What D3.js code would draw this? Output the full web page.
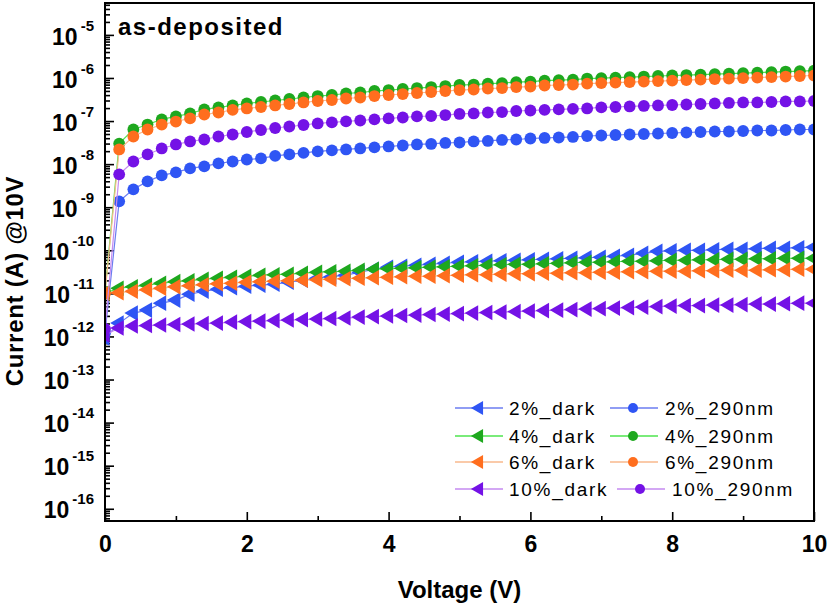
<!DOCTYPE html>
<html lang="en">
<head>
<meta charset="UTF-8">
<title>Current vs Voltage</title>
<script src="https://d3js.org/d3.v7.min.js"></script>
<style>
  body { margin: 0; background: #fff; }
  svg text { font-family: "Liberation Sans", Arial, sans-serif; fill: #000; }
</style>
</head>
<body>
<svg class="chart" width="833" height="611"></svg>
<script>
// voltage sweep (V)
const voltage = [0, 0.2, 0.4, 0.6, 0.8, 1, 1.2, 1.4, 1.6, 1.8, 2, 2.2, 2.4, 2.6, 2.8, 3, 3.2, 3.4, 3.6, 3.8,
  4, 4.2, 4.4, 4.6, 4.8, 5, 5.2, 5.4, 5.6, 5.8, 6, 6.2, 6.4, 6.6, 6.8, 7, 7.2, 7.4, 7.6, 7.8,
  8, 8.2, 8.4, 8.6, 8.8, 9, 9.2, 9.4, 9.6, 9.8, 10];

// current (A)
const dark2 = [9.2e-13, 2.04e-12, 3.48e-12, 4.09e-12, 5.93e-12, 6.97e-12, 9.6e-12, 1.12e-11, 1.25e-11, 1.36e-11,
  1.47e-11, 1.55e-11, 1.63e-11, 1.82e-11, 2.02e-11, 2.25e-11, 2.44e-11, 2.64e-11, 3.1e-11, 3.64e-11,
  4.05e-11, 4.27e-11, 4.5e-11, 4.74e-11, 5.0e-11, 5.28e-11, 5.42e-11, 5.57e-11, 5.72e-11, 5.87e-11,
  6.03e-11, 6.2e-11, 6.36e-11, 6.54e-11, 6.71e-11, 6.9e-11, 7.29e-11, 7.67e-11, 8.51e-11, 9.45e-11,
  9.7e-11, 1.0e-10, 1.0e-10, 1.03e-10, 1.06e-10, 1.06e-10, 1.09e-10, 1.12e-10, 1.12e-10, 1.15e-10, 1.18e-10];
const light2 = [1.2e-12, 1.37e-9, 2.6e-9, 3.98e-9, 5.48e-9, 6.43e-9, 7.96e-9, 8.87e-9, 1.04e-8, 1.15e-8,
  1.28e-8, 1.36e-8, 1.55e-8, 1.68e-8, 1.82e-8, 1.97e-8, 2.08e-8, 2.19e-8, 2.31e-8, 2.44e-8,
  2.57e-8, 2.71e-8, 2.86e-8, 2.94e-8, 3.1e-8, 3.18e-8, 3.36e-8, 3.45e-8, 3.64e-8, 3.73e-8,
  3.94e-8, 4.05e-8, 4.15e-8, 4.27e-8, 4.5e-8, 4.62e-8, 4.74e-8, 4.87e-8, 5.0e-8, 5.14e-8,
  5.28e-8, 5.42e-8, 5.57e-8, 5.72e-8, 5.72e-8, 5.87e-8, 6.03e-8, 6.03e-8, 6.2e-8, 6.36e-8, 6.36e-8];
const dark4 = [1.01e-11, 1.32e-11, 1.43e-11, 1.55e-11, 1.72e-11, 1.87e-11, 1.97e-11, 2.13e-11, 2.25e-11, 2.37e-11,
  2.5e-11, 2.64e-11, 2.71e-11, 2.79e-11, 2.94e-11, 3.1e-11, 3.18e-11, 3.27e-11, 3.45e-11, 3.64e-11,
  3.73e-11, 3.83e-11, 3.94e-11, 4.05e-11, 4.15e-11, 4.27e-11, 4.38e-11, 4.5e-11, 4.62e-11, 4.74e-11,
  4.74e-11, 4.87e-11, 5.0e-11, 5.14e-11, 5.28e-11, 5.28e-11, 5.42e-11, 5.57e-11, 5.57e-11, 5.72e-11,
  5.87e-11, 5.87e-11, 6.03e-11, 6.03e-11, 6.2e-11, 6.2e-11, 6.36e-11, 6.36e-11, 6.54e-11, 6.54e-11, 6.54e-11];
const light4 = [1.1e-11, 3.0e-8, 6.4e-8, 8.3e-8, 1.09e-7, 1.28e-7, 1.5e-7, 1.86e-7, 2.07e-7, 2.3e-7,
  2.56e-7, 2.77e-7, 3.0e-7, 3.25e-7, 3.52e-7, 3.81e-7, 4.02e-7, 4.36e-7, 4.6e-7, 4.98e-7,
  5.25e-7, 5.54e-7, 5.84e-7, 6.16e-7, 6.5e-7, 6.86e-7, 7.04e-7, 7.42e-7, 7.62e-7, 8.04e-7,
  8.25e-7, 8.7e-7, 8.94e-7, 9.18e-7, 9.7e-7, 9.96e-7, 1.02e-6, 1.05e-6, 1.08e-6, 1.11e-6,
  1.14e-6, 1.17e-6, 1.2e-6, 1.23e-6, 1.26e-6, 1.3e-6, 1.33e-6, 1.37e-6, 1.41e-6, 1.44e-6, 1.48e-6];
const dark6 = [1.01e-11, 1.04e-11, 1.12e-11, 1.22e-11, 1.32e-11, 1.43e-11, 1.51e-11, 1.59e-11, 1.68e-11, 1.72e-11,
  1.82e-11, 1.87e-11, 1.92e-11, 1.97e-11, 2.02e-11, 2.08e-11, 2.13e-11, 2.19e-11, 2.25e-11, 2.31e-11,
  2.37e-11, 2.44e-11, 2.5e-11, 2.5e-11, 2.57e-11, 2.64e-11, 2.71e-11, 2.71e-11, 2.79e-11, 2.86e-11,
  2.86e-11, 2.94e-11, 2.94e-11, 3.02e-11, 3.02e-11, 3.1e-11, 3.1e-11, 3.18e-11, 3.18e-11, 3.27e-11,
  3.27e-11, 3.27e-11, 3.36e-11, 3.36e-11, 3.45e-11, 3.45e-11, 3.45e-11, 3.54e-11, 3.54e-11, 3.64e-11, 3.64e-11];
const light6 = [1.0e-11, 2.19e-8, 4.38e-8, 6.36e-8, 8.3e-8, 9.75e-8, 1.15e-7, 1.42e-7, 1.58e-7, 1.81e-7,
  1.96e-7, 2.12e-7, 2.3e-7, 2.49e-7, 2.7e-7, 2.92e-7, 3.08e-7, 3.34e-7, 3.52e-7, 3.81e-7,
  4.02e-7, 4.24e-7, 4.48e-7, 4.72e-7, 4.98e-7, 5.25e-7, 5.4e-7, 5.69e-7, 5.84e-7, 6.16e-7,
  6.33e-7, 6.68e-7, 6.86e-7, 7.04e-7, 7.42e-7, 7.62e-7, 7.83e-7, 8.04e-7, 8.25e-7, 8.47e-7,
  8.7e-7, 8.94e-7, 9.18e-7, 9.45e-7, 9.7e-7, 9.96e-7, 1.02e-6, 1.05e-6, 1.08e-6, 1.11e-6, 1.14e-6];
const dark10 = [1.08e-12, 1.57e-12, 1.74e-12, 1.79e-12, 1.84e-12, 1.89e-12, 1.94e-12, 1.99e-12, 2.04e-12, 2.15e-12,
  2.21e-12, 2.27e-12, 2.33e-12, 2.4e-12, 2.46e-12, 2.53e-12, 2.6e-12, 2.67e-12, 2.81e-12, 2.89e-12,
  2.97e-12, 3.05e-12, 3.13e-12, 3.22e-12, 3.3e-12, 3.39e-12, 3.48e-12, 3.58e-12, 3.67e-12, 3.78e-12,
  3.88e-12, 3.98e-12, 4.09e-12, 4.2e-12, 4.31e-12, 4.43e-12, 4.55e-12, 4.67e-12, 4.8e-12, 4.93e-12,
  5.06e-12, 5.2e-12, 5.2e-12, 5.34e-12, 5.34e-12, 5.48e-12, 5.63e-12, 5.63e-12, 5.78e-12, 5.93e-12, 5.93e-12];
const light10 = [1.5e-12, 5.8e-9, 1.15e-8, 1.68e-8, 2.31e-8, 2.86e-8, 3.36e-8, 3.73e-8, 4.38e-8, 4.87e-8,
  5.57e-8, 6.2e-8, 6.9e-8, 7.47e-8, 8.1e-8, 8.79e-8, 9.28e-8, 9.8e-8, 1.03e-7, 1.09e-7,
  1.15e-7, 1.21e-7, 1.28e-7, 1.31e-7, 1.38e-7, 1.46e-7, 1.5e-7, 1.58e-7, 1.62e-7, 1.71e-7,
  1.76e-7, 1.81e-7, 1.86e-7, 1.91e-7, 1.96e-7, 2.07e-7, 2.12e-7, 2.18e-7, 2.24e-7, 2.3e-7,
  2.36e-7, 2.42e-7, 2.49e-7, 2.56e-7, 2.63e-7, 2.7e-7, 2.7e-7, 2.77e-7, 2.85e-7, 2.85e-7, 2.92e-7];

const seriesNames = ['2%_dark', '2%_290nm', '4%_dark', '4%_290nm', '6%_dark', '6%_290nm', '10%_dark', '10%_290nm'];
const xTicks = [0, 2, 4, 6, 8, 10];
const xMinorTicks = [1, 3, 5, 7, 9];
const yTicks = [1e-5, 1e-6, 1e-7, 1e-8, 1e-9, 1e-10, 1e-11, 1e-12, 1e-13, 1e-14, 1e-15, 1e-16];

const series = [
  { name: seriesNames[0], values: dark2, shape: 'tri', fill: '#2f55f4', line: '#6b7df0' },
  { name: seriesNames[1], values: light2, shape: 'dot', fill: '#2f55f4', line: '#6b7df0' },
  { name: seriesNames[2], values: dark4, shape: 'tri', fill: '#1ea81e', line: '#4ee44e' },
  { name: seriesNames[3], values: light4, shape: 'dot', fill: '#1ea81e', line: '#4ee44e' },
  { name: seriesNames[4], values: dark6, shape: 'tri', fill: '#ff6e1e', line: '#f9b88c' },
  { name: seriesNames[5], values: light6, shape: 'dot', fill: '#ff6e1e', line: '#f9b88c' },
  { name: seriesNames[6], values: dark10, shape: 'tri', fill: '#7412e6', line: '#c58af0' },
  { name: seriesNames[7], values: light10, shape: 'dot', fill: '#7412e6', line: '#c58af0' }
];

const svg = d3.select('.chart');
const margin = { top: 3, right: 19, bottom: 90, left: 105 };
const width = +svg.attr('width') - margin.left - margin.right;
const height = +svg.attr('height') - margin.top - margin.bottom;

const x = d3.scaleLinear().domain([0, 10]).range([0, width]);
const y = d3.scaleLog().domain([5.2e-17, 5.5e-5]).range([height, 0]);

const g = svg.append('g').attr('transform', `translate(${margin.left},${margin.top})`);

g.append('clipPath').attr('id', 'plot-clip')
  .append('rect').attr('width', width).attr('height', height);

// minor log ticks
const yMinor = [];
for (let e = -17; e <= -5; e++) {
  for (let m = 2; m <= 9; m++) {
    const v = m * Math.pow(10, e);
    if (v > y.domain()[0] && v < y.domain()[1]) yMinor.push(v);
  }
}

const gyMinor = g.append('g').call(d3.axisLeft(y).tickValues(yMinor).tickSize(-5).tickFormat(''));
gyMinor.select('.domain').remove();

const gy = g.append('g').call(d3.axisLeft(y).tickValues(yTicks).tickSize(-9).tickPadding(11).tickFormat(''));
gy.select('.domain').remove();
gy.selectAll('.tick text').each(function (d) {
  const t = d3.select(this)
    .attr('dy', '0.4em')
    .attr('font-size', 23)
    .attr('font-weight', 'bold');
  t.append('tspan').text('10');
  t.append('tspan').attr('dx', 3).attr('dy', -14).attr('font-size', 15).text(Math.round(Math.log10(d)));
});

const gxMinor = g.append('g').attr('transform', `translate(0,${height})`)
  .call(d3.axisBottom(x).tickValues(xMinorTicks).tickSize(-5).tickFormat(''));
gxMinor.select('.domain').remove();

const gx = g.append('g').attr('transform', `translate(0,${height})`)
  .call(d3.axisBottom(x).tickValues(xTicks).tickSize(-9).tickPadding(15));
gx.select('.domain').remove();
gx.selectAll('.tick text').attr('font-size', 23).attr('font-weight', 'bold');

g.selectAll('.tick line').attr('stroke', '#000').attr('stroke-width', 1.6);

// data
const plot = g.append('g').attr('clip-path', 'url(#plot-clip)');
const line = d3.line().x((d, i) => x(voltage[i])).y(d => y(d));
const tri = d3.symbol(d3.symbolTriangle, 105);

series.forEach(s => {
  plot.append('path')
    .attr('d', line(s.values))
    .attr('fill', 'none')
    .attr('stroke', s.line)
    .attr('stroke-width', 1.2);
  if (s.shape === 'tri') {
    plot.append('g').selectAll('path')
      .data(s.values)
      .enter()
      .append('path')
      .attr('d', tri)
      .attr('transform', (d, i) => `translate(${x(voltage[i])},${y(d)}) rotate(-90)`)
      .attr('fill', s.fill);
  } else {
    plot.append('g').selectAll('circle')
      .data(s.values)
      .enter()
      .append('circle')
      .attr('cx', (d, i) => x(voltage[i]))
      .attr('cy', d => y(d))
      .attr('r', 5.9)
      .attr('fill', s.fill);
  }
});

// frame
g.append('rect')
  .attr('width', width)
  .attr('height', height)
  .attr('fill', 'none')
  .attr('stroke', '#000')
  .attr('stroke-width', 2);

// sample label
g.append('text')
  .attr('x', 13)
  .attr('y', 32)
  .attr('font-size', 24)
  .attr('font-weight', 'bold')
  .attr('letter-spacing', 1.5)
  .text('as-deposited');

// legend
const legendRows = [408, 436, 462, 489];
const rightCol = [610, 610, 610, 617];
const legend = svg.append('g');
series.forEach((s, i) => {
  const row = Math.floor(i / 2);
  const x0 = i % 2 === 0 ? 455 : rightCol[row];
  const cy = legendRows[row];
  const item = legend.append('g').attr('transform', `translate(${x0},${cy})`);
  item.append('line')
    .attr('x1', 0).attr('x2', 48)
    .attr('stroke', s.line).attr('stroke-width', 1.6);
  if (s.shape === 'tri') {
    item.append('path')
      .attr('d', d3.symbol(d3.symbolTriangle, 85)())
      .attr('transform', 'translate(24,0) rotate(-90)')
      .attr('fill', s.fill);
  } else {
    item.append('circle').attr('cx', 23).attr('r', 5).attr('fill', s.fill);
  }
  item.append('text')
    .attr('x', i % 2 === 0 ? 54 : 55)
    .attr('y', 7)
    .attr('font-size', 19)
    .attr('letter-spacing', 1.7)
    .text(s.name);
});

// axis titles
svg.append('text')
  .attr('x', margin.left + width / 2)
  .attr('y', 598)
  .attr('text-anchor', 'middle')
  .attr('font-size', 24)
  .attr('font-weight', 'bold')
  .text('Voltage (V)');

svg.append('text')
  .attr('transform', 'translate(23,281) rotate(-90)')
  .attr('text-anchor', 'middle')
  .attr('font-size', 24)
  .attr('font-weight', 'bold')
  .attr('letter-spacing', 0.7)
  .text('Current (A) @10V');
</script>
</body>
</html>
